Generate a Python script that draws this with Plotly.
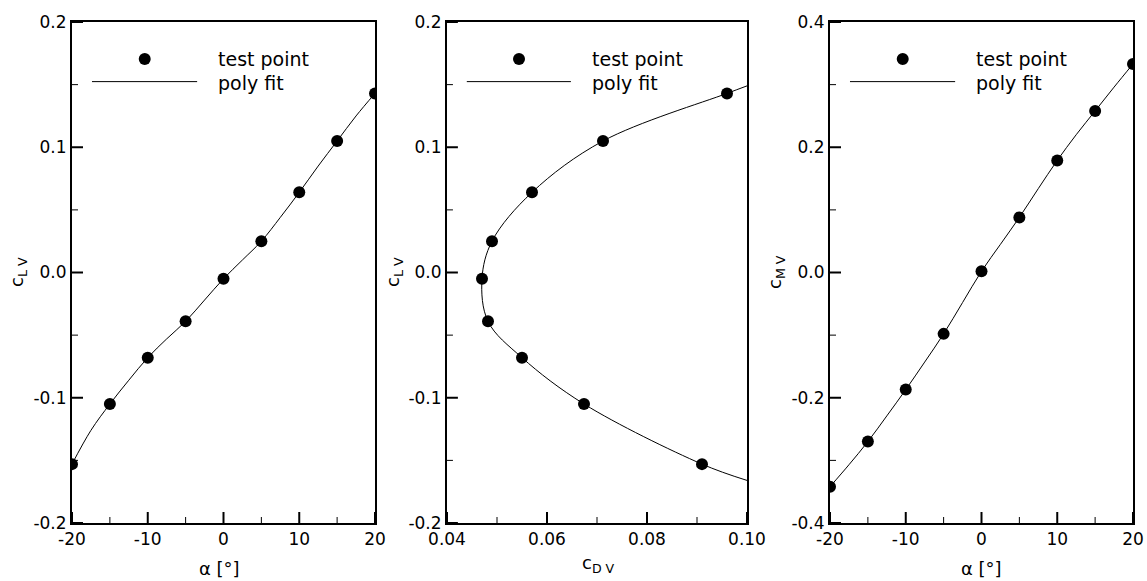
import plotly.graph_objects as go

# ---- data ----
alpha = [-20, -15, -10, -5, 0, 5, 10, 15, 20]
cl_v = [-0.153, -0.105, -0.068, -0.039, -0.005, 0.025, 0.064, 0.105, 0.143]
cd_v = [0.091, 0.0674, 0.055, 0.0482, 0.047, 0.049, 0.057, 0.0712, 0.096]
cm_v = [-0.342, -0.270, -0.187, -0.098, 0.002, 0.088, 0.179, 0.258, 0.333]

# poly fit curves
fit_alpha = [-20, -17.5, -15, -12.5, -10, -7.5, -5, -2.5, 0, 2.5, 5, 7.5, 10, 12.5, 15, 17.5, 20]
fit_cl = [-0.153, -0.126, -0.105, -0.086, -0.068, -0.053, -0.039, -0.022, -0.005, 0.010, 0.025, 0.044, 0.064, 0.085, 0.105, 0.125, 0.143]
fit_cm = [-0.342, -0.307, -0.270, -0.229, -0.187, -0.143, -0.098, -0.048, 0.002, 0.045, 0.088, 0.134, 0.179, 0.220, 0.258, 0.296, 0.333]
fit_cd2 = [0.100, 0.091, 0.0674, 0.055, 0.0482, 0.047, 0.049, 0.057, 0.0712, 0.096, 0.100]
fit_cl2 = [-0.166, -0.153, -0.105, -0.068, -0.039, -0.005, 0.025, 0.064, 0.105, 0.143, 0.149]

# tick labels
alpha_ticks = [-20, -10, 0, 10, 20]
alpha_text = ["-20", "-10", "0", "10", "20"]
alpha_minor = [-15, -5, 5, 15]
cl_ticks = [-0.2, -0.1, 0.0, 0.1, 0.2]
cl_text = ["-0.2", "-0.1", "0.0", "0.1", "0.2"]
cl_minor = [-0.15, -0.05, 0.05, 0.15]
cd_ticks = [0.04, 0.06, 0.08, 0.10]
cd_text = ["0.04", "0.06", "0.08", "0.10"]
cd_minor = [0.05, 0.07, 0.09]
cm_ticks = [-0.4, -0.2, 0.0, 0.2, 0.4]
cm_text = ["-0.4", "-0.2", "0.0", "0.2", "0.4"]
cm_minor = [-0.3, -0.1, 0.1, 0.3]

alpha_range = [-20, 20]
cl_range = [-0.2, 0.2]
cd_range = [0.04, 0.10]
cm_range = [-0.4, 0.4]

W, H = 1147, 581
PLOT_W = 303
PLOT_H = 501
FONT = "DejaVu Sans, Liberation Sans, Arial, sans-serif"

fig = go.Figure()

# (x, y, x data, y data, fit x, fit y, x range, x major, x minor, y range, y major, y minor)
panels = [
    ("x", "y", alpha, cl_v, fit_alpha, fit_cl, alpha_range, alpha_ticks, alpha_minor, cl_range, cl_ticks, cl_minor),
    ("x2", "y2", cd_v, cl_v, fit_cd2, fit_cl2, cd_range, cd_ticks, cd_minor, cl_range, cl_ticks, cl_minor),
    ("x3", "y3", alpha, cm_v, fit_alpha, fit_cm, alpha_range, alpha_ticks, alpha_minor, cm_range, cm_ticks, cm_minor),
]

# ---- inside tick marks drawn as thin line traces at the tick values ----
for xa, ya, _, _, _, _, xr_, xmaj, xmin, yr_, ymaj, ymin in panels:
    xspan = xr_[1] - xr_[0]
    yspan = yr_[1] - yr_[0]
    for vals, ln, wd in [(xmaj, 11, 2), (xmin, 6, 1)]:
        tx, ty = [], []
        for v in vals:
            tx += [v, v, None]
            ty += [yr_[0], yr_[0] + yspan * ln / PLOT_H, None]
        fig.add_trace(go.Scatter(x=tx, y=ty, mode="lines", xaxis=xa, yaxis=ya,
                                 line=dict(color="black", width=wd), cliponaxis=False,
                                 showlegend=False, hoverinfo="skip"))
    for vals, ln, wd in [(ymaj, 11, 2), (ymin, 6, 1)]:
        tx, ty = [], []
        for v in vals:
            tx += [xr_[0], xr_[0] + xspan * ln / PLOT_W, None]
            ty += [v, v, None]
        fig.add_trace(go.Scatter(x=tx, y=ty, mode="lines", xaxis=xa, yaxis=ya,
                                 line=dict(color="black", width=wd), cliponaxis=False,
                                 showlegend=False, hoverinfo="skip"))

for xa, ya, xd, yd, fx, fy, *_ in panels:
    fig.add_trace(go.Scatter(x=fx, y=fy, mode="lines", xaxis=xa, yaxis=ya,
                             line=dict(color="black", width=1, shape="spline", smoothing=1.0),
                             showlegend=False, hoverinfo="skip"))
    fig.add_trace(go.Scatter(x=xd, y=yd, mode="markers", xaxis=xa, yaxis=ya,
                             marker=dict(color="black", size=12),
                             showlegend=False))

def px_dom_x(a, b):
    return [a / W, b / W]

ydom = [(H - 523) / H, (H - 22) / H]

def axis_cfg(dom, rng, tv, tt, anchor):
    return dict(domain=dom, range=rng, tickmode="array", tickvals=tv, ticktext=tt,
                anchor=anchor, automargin=False, fixedrange=True,
                showgrid=False, zeroline=False, showline=True, mirror=True,
                linecolor="black", linewidth=2, ticks="", ticklabelstandoff=0,
                tickfont=dict(family=FONT, size=17, color="black"))

fig.update_layout(
    width=W, height=H, margin=dict(l=0, r=0, t=0, b=0, autoexpand=False),
    paper_bgcolor="white", plot_bgcolor="white",
    font=dict(family=FONT, size=17, color="black"),
    showlegend=False,
    xaxis=axis_cfg(px_dom_x(72, 375), alpha_range, alpha_ticks, alpha_text, "y"),
    yaxis=axis_cfg(ydom, cl_range, cl_ticks, cl_text, "x"),
    xaxis2=axis_cfg(px_dom_x(447, 747), cd_range, cd_ticks, cd_text, "y2"),
    yaxis2=axis_cfg(ydom, cl_range, cl_ticks, cl_text, "x2"),
    xaxis3=axis_cfg(px_dom_x(830, 1133), alpha_range, alpha_ticks, alpha_text, "y3"),
    yaxis3=axis_cfg(ydom, cm_range, cm_ticks, cm_text, "x3"),
)

# ---- per-panel legends (drawn in axis-domain coordinates) ----
for xa, ya in [("x", "y"), ("x2", "y2"), ("x3", "y3")]:
    xr, yr = xa + " domain", ya + " domain"
    fig.add_shape(type="line", xref=xr, yref=yr, x0=0.066, x1=0.413, y0=0.881, y1=0.881,
                  line=dict(color="black", width=1))
    fig.add_shape(type="circle", xref=xr, yref=yr, xsizemode="pixel", ysizemode="pixel",
                  xanchor=0.24, yanchor=0.926, x0=-6, x1=6, y0=-6, y1=6,
                  fillcolor="black", line=dict(color="black", width=0))
    fig.add_annotation(xref=xr, yref=yr, x=0.475, y=0.926, text="test point",
                       showarrow=False, xanchor="left", yanchor="middle",
                       font=dict(family=FONT, size=19, color="black"))
    fig.add_annotation(xref=xr, yref=yr, x=0.475, y=0.878, text="poly fit",
                       showarrow=False, xanchor="left", yanchor="middle",
                       font=dict(family=FONT, size=19, color="black"))

# ---- axis titles ----
def ann(x, y, text, angle=0):
    fig.add_annotation(xref="paper", yref="paper", x=x / W, y=1 - y / H, text=text,
                       showarrow=False, textangle=angle, xanchor="center", yanchor="middle",
                       font=dict(family=FONT, size=18, color="black"))

ann(219, 568, "α [°]")
ann(981, 568, "α [°]")
ann(598, 564, "c<sub>D V</sub>")
ann(18, 272, "c<sub>L V</sub>", -90)
ann(394, 272, "c<sub>L V</sub>", -90)
ann(776, 272, "c<sub>M V</sub>", -90)

fig.write_html("out.html", config={"displayModeBar": False, "staticPlot": True},
               post_script="document.body.style.margin='0';document.body.style.overflow='hidden';")
